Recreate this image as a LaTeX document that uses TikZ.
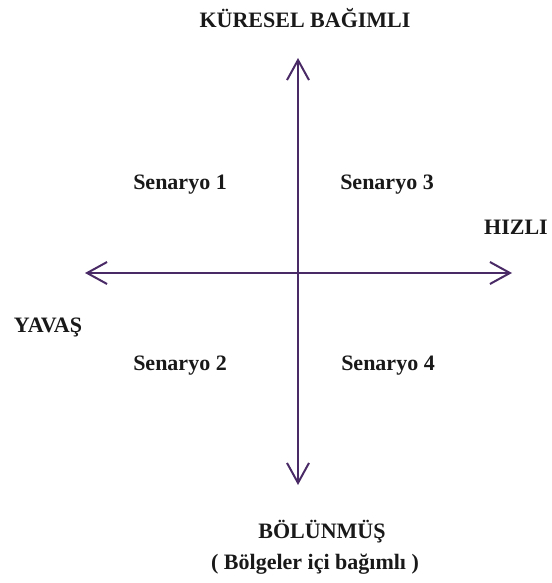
\documentclass[tikz,border=0pt]{standalone}
\usepackage{fontspec}
\setmainfont{Liberation Serif}
\usetikzlibrary{arrows.meta}
\definecolor{axiscol}{HTML}{4A2A66}
\begin{document}
\begin{tikzpicture}[x=1pt,y=-1pt,
  lbl/.style={font=\fontsize{22}{26}\selectfont\bfseries, inner sep=0pt, text=black!90},
  axis/.style={draw=axiscol, line width=2pt, {Straight Barb[length=20pt,width=22pt,line width=2pt]}-{Straight Barb[length=20pt,width=22pt,line width=2pt]}}]
\useasboundingbox (0,0) rectangle (551,583);
\coordinate (top) at (298,58);
\coordinate (bot) at (298,485);
\coordinate (left) at (85,273);
\coordinate (right) at (512,273);
\draw[axis] (bot) -- (top);
\draw[axis] (left) -- (right);
\node[lbl] (n) at (305,18) {KÜRESEL BAĞIMLI};
\node[lbl] (s1) at (180,185) {Senaryo 1};
\node[lbl] (s3) at (387,185) {Senaryo 3};
\node[lbl] (h) at (516,227) {HIZLI};
\node[lbl] (y) at (48,327) {YAVAŞ};
\node[lbl] (s2) at (180,366) {Senaryo 2};
\node[lbl] (s4) at (388,366) {Senaryo 4};
\node[lbl] (b) at (322,532) {BÖLÜNMÜŞ};
\node[lbl] (b2) at (315,564) {( Bölgeler içi bağımlı )};
\end{tikzpicture}
\end{document}
